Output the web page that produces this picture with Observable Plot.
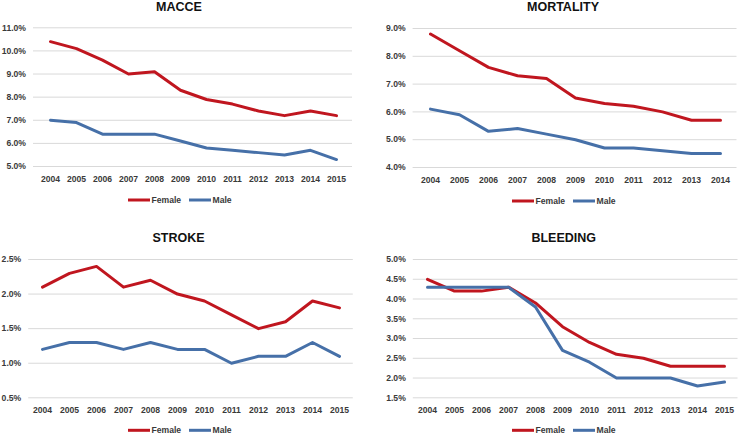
<!DOCTYPE html>
<html>
<head>
<meta charset="utf-8">
<script src="https://cdn.jsdelivr.net/npm/d3@7"></script>
<script src="https://cdn.jsdelivr.net/npm/@observablehq/plot@0.6"></script>
<style>
  html, body { margin: 0; padding: 0; background: #fff; }
  #chart { position: relative; width: 738px; height: 435px; background: #fff; overflow: hidden; }
  #chart svg { position: absolute; }
  #chart svg text { font-family: 'Liberation Sans', Arial, sans-serif !important; font-weight: 700 !important; }
  #chart svg g[aria-label*="axis"] { font-size: 8.6px !important; }
  #chart svg g[aria-label*="axis"] text { font-size: 8.6px !important; }
</style>
</head>
<body>
<div id="chart"></div>
<script>
// ---- data ----
const years12 = ["2004","2005","2006","2007","2008","2009","2010","2011","2012","2013","2014","2015"];
const years11 = ["2004","2005","2006","2007","2008","2009","2010","2011","2012","2013","2014"];
const series = ["Female", "Male"];

const macceFemale = [10.4, 10.1, 9.6, 9.0, 9.1, 8.3, 7.9, 7.7, 7.4, 7.2, 7.4, 7.2];
const macceMale   = [7.0, 6.9, 6.4, 6.4, 6.4, 6.1, 5.8, 5.7, 5.6, 5.5, 5.7, 5.3];
const macceTicks  = [5, 6, 7, 8, 9, 10, 11];

const mortFemale = [8.8, 8.2, 7.6, 7.3, 7.2, 6.5, 6.3, 6.2, 6.0, 5.7, 5.7];
const mortMale   = [6.1, 5.9, 5.3, 5.4, 5.2, 5.0, 4.7, 4.7, 4.6, 4.5, 4.5];
const mortTicks  = [4, 5, 6, 7, 8, 9];

const strokeFemale = [2.1, 2.3, 2.4, 2.1, 2.2, 2.0, 1.9, 1.7, 1.5, 1.6, 1.9, 1.8];
const strokeMale   = [1.2, 1.3, 1.3, 1.2, 1.3, 1.2, 1.2, 1.0, 1.1, 1.1, 1.3, 1.1];
const strokeTicks  = [0.5, 1.0, 1.5, 2.0, 2.5];

const bleedFemale = [4.5, 4.2, 4.2, 4.3, 3.9, 3.3, 2.9, 2.6, 2.5, 2.3, 2.3, 2.3];
const bleedMale   = [4.3, 4.3, 4.3, 4.3, 3.8, 2.7, 2.4, 2.0, 2.0, 2.0, 1.8, 1.9];
const bleedTicks  = [1.5, 2.0, 2.5, 3.0, 3.5, 4.0, 4.5, 5.0];

const titles = ["MACCE", "MORTALITY", "STROKE", "BLEEDING"];

// ---- styling ----
const RED = "#c0161f";
const BLUE = "#4670a8";
const TEXT = "#3a3a3a";
const FONT = "'Liberation Sans', Arial, sans-serif";

function toRows(years, f, m) {
  const rows = [];
  years.forEach((y, i) => rows.push({year: y, sex: "Female", value: f[i]}));
  years.forEach((y, i) => rows.push({year: y, sex: "Male", value: m[i]}));
  return rows;
}

const panels = [
  {title: titles[0], years: years12, f: macceFemale, m: macceMale, ticks: macceTicks,
   left: 0, top: 0, width: 369, height: 217, mL: 33, mR: 17, mT: 27.3, mB: 51,
   titleX: 179, titleY: 10.6, legX: 128, legY: 200},
  {title: titles[1], years: years11, f: mortFemale, m: mortMale, ticks: mortTicks,
   left: 369, top: 0, width: 369, height: 217, mL: 43.6, mR: 1.5, mT: 28, mB: 50,
   titleX: 194, titleY: 10.6, legX: 143, legY: 201},
  {title: titles[2], years: years12, f: strokeFemale, m: strokeMale, ticks: strokeTicks,
   left: 0, top: 217, width: 369, height: 218, mL: 28.2, mR: 16.2, mT: 42, mB: 37.7,
   titleX: 178.5, titleY: 24.5, legX: 128, legY: 213.3},
  {title: titles[3], years: years12, f: bleedFemale, m: bleedMale, ticks: bleedTicks,
   left: 369, top: 217, width: 369, height: 218, mL: 43.8, mR: 0.5, mT: 42, mB: 37.7,
   titleX: 194.7, titleY: 24.5, legX: 143, legY: 213.3}
];

const container = document.getElementById("chart");

panels.forEach(p => {
  const data = toRows(p.years, p.f, p.m);
  const svg = Plot.plot({
    width: p.width,
    height: p.height,
    marginLeft: p.mL,
    marginRight: p.mR,
    marginTop: p.mT,
    marginBottom: p.mB,
    style: {fontFamily: FONT, fontSize: "8.6px", fontWeight: "bold", color: TEXT, background: "transparent", overflow: "visible"},
    x: {type: "point", domain: p.years, padding: 0.5, label: null, tickSize: 0, tickPadding: 9.5},
    y: {domain: [p.ticks[0], p.ticks[p.ticks.length - 1]], ticks: p.ticks, tickFormat: d => d.toFixed(1) + "%", label: null, tickSize: 0, tickPadding: 7.5},
    color: {domain: series, range: [RED, BLUE]},
    marks: [
      Plot.ruleY(p.ticks, {stroke: "#d9d9d9", strokeWidth: 1}),
      Plot.line(data, {x: "year", y: "value", z: "sex", stroke: "sex", strokeWidth: 3, strokeLinejoin: "round"})
    ]
  });
  svg.style.left = p.left + "px";
  svg.style.top = p.top + "px";
  const s = d3.select(svg);
  s.append("text")
    .attr("x", p.titleX).attr("y", p.titleY)
    .attr("text-anchor", "middle")
    .style("font-size", "12.5px")
    .attr("fill", "#111").text(p.title);
  // legend
  const lg = s.append("g").style("font-size", "8.6px").attr("fill", TEXT).attr("text-anchor", "start");
  let x = p.legX;
  series.forEach((name, i) => {
    const col = i === 0 ? RED : BLUE;
    lg.append("line").attr("x1", x).attr("x2", x + 22).attr("y1", p.legY).attr("y2", p.legY)
      .attr("stroke", col).attr("stroke-width", 3);
    lg.append("text").attr("x", x + 23.5).attr("y", p.legY + 3).attr("text-anchor", "start").text(name);
    x += 61;
  });
  container.appendChild(svg);
});
</script>
</body>
</html>
